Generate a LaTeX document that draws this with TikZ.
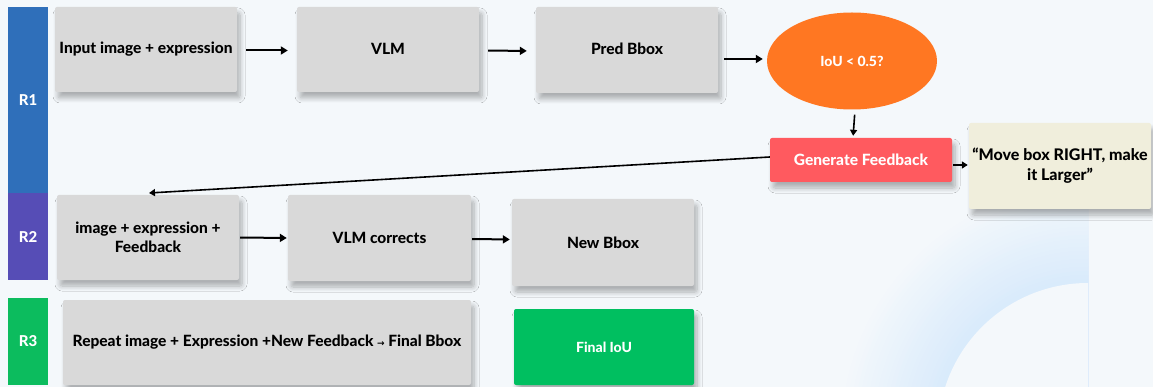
\documentclass[tikz,border=0pt]{standalone}
\usepackage{fontspec}
\setmainfont{Lato}[BoldFont={Lato Heavy}]
\newfontfamily\symfont{DejaVu Sans}
\usetikzlibrary{arrows.meta,shapes.geometric,shadows.blur}

\definecolor{bgc}{HTML}{F4F8FB}
\definecolor{ringc}{HTML}{D8EAFB}
\definecolor{roundone}{HTML}{2F6FBA}
\definecolor{roundtwo}{HTML}{564DB6}
\definecolor{roundthree}{HTML}{0CBC5E}
\definecolor{boxgray}{HTML}{D9D9D9}
\definecolor{iouorange}{HTML}{FF7722}
\definecolor{fbred}{HTML}{FF5A5F}
\definecolor{quotec}{HTML}{F0EEDC}
\definecolor{finalgreen}{HTML}{00BF60}

\tikzset{
  stage/.style={fill=boxgray, rounded corners=2pt, align=center,
    font=\fontsize{15.5}{19.5}\selectfont\bfseries, text=black, inner sep=0pt,
    blur shadow={shadow xshift=3pt, shadow yshift=-6pt, shadow blur steps=8, shadow opacity=30, shadow blur radius=5pt}},
  bar/.style={inner sep=0pt, font=\fontsize{15}{17}\selectfont\bfseries, text=white},
  arr/.style={draw=black, line width=2pt, -{Triangle[length=7pt,width=8pt]}},
  thin arr/.style={draw=black, line width=1.6pt, -{Triangle[length=6pt,width=7pt]}}
}

\begin{document}
\begin{tikzpicture}[x=1pt,y=-1pt]
\useasboundingbox (0,0) rectangle (1153,387);
\fill[bgc] (0,0) rectangle (1153,387);

% faint quarter ring in the lower right corner
\begin{scope}
  \clip (0,0) rectangle (1088,433);
  \foreach \i in {0,...,24} {
    \pgfmathsetmacro{\rr}{250-4*\i}
    \pgfmathsetmacro{\mix}{4*\i}
    \fill[ringc!\mix!bgc] (1088,433) circle[radius=\rr pt];
  }
  \fill[bgc] (1088,433) circle[radius=150pt];
\end{scope}

% round bars
\node[bar, fill=roundone, minimum width=40pt, minimum height=186pt] (r1) at (28,100) {R1};
\node[bar, fill=roundtwo, minimum width=40pt, minimum height=87pt] (r2) at (28,236.5) {R2};
\node[bar, fill=roundthree, minimum width=40pt, minimum height=87pt] (r3) at (28,341.5) {R3};

% round 1
\node[stage, minimum width=182pt, minimum height=85pt] (inp) at (146,49.5) {\raisebox{2pt}{Input image + expression}};
\node[stage, minimum width=182pt, minimum height=85pt] (vlm) at (388,49.5) {\raisebox{2pt}{VLM}};
\node[stage, minimum width=182pt, minimum height=86pt] (pred) at (627,50) {\raisebox{2pt}{Pred Bbox}};
\node[ellipse, fill=iouorange, minimum width=170pt, minimum height=97pt, inner sep=0pt,
      font=\fontsize{14}{16}\selectfont\bfseries, text=white] (iou) at (852,61) {IoU < 0.5?};
\node[stage, fill=fbred, text=white, minimum width=182pt, minimum height=44pt] (gen) at (861,160) {Generate Feedback};
\node[stage, fill=quotec, minimum width=182pt, minimum height=86pt, font=\fontsize{16}{20}\selectfont\bfseries] (quote) at (1060,166) {“Move box RIGHT, make\\it Larger”};

% round 2
\node[stage, minimum width=182pt, minimum height=85pt] (inp2) at (148,237.5) {image + expression +\\Feedback};
\node[stage, minimum width=183pt, minimum height=86pt] (vlmc) at (379.5,238) {VLM corrects};
\node[stage, minimum width=182pt, minimum height=87pt] (newb) at (603,242.5) {New Bbox};

% round 3
\node[stage, minimum width=408pt, minimum height=85pt] (rep) at (267,342.5) {Repeat image + Expression +New Feedback {\symfont\fontsize{9}{10}\selectfont →} Final Bbox};
\node[stage, fill=finalgreen, text=white, minimum width=180pt, minimum height=76pt, font=\fontsize{14}{16}\selectfont\bfseries] (fin) at (604,347) {Final IoU};

\coordinate (fbin) at (149,193);

% connectors
\draw[arr, shorten <=9pt, shorten >=9pt] ([yshift=-1pt]inp.east) -- ([yshift=-1pt]vlm.west);
\draw[arr, shorten <=9pt, shorten >=9pt] ([yshift=-1pt]vlm.east) -- ([yshift=-1pt]pred.west);
\draw[arr, shorten <=6pt, shorten >=4pt] ([yshift=-9pt]pred.east) -- ([yshift=2pt]iou.west);
\draw[thin arr, shorten <=5pt, shorten >=2pt] ([xshift=3pt]iou.south) -- ([xshift=-8pt]gen.north);
\draw[thin arr, shorten <=1pt, shorten >=1pt] ([yshift=-5pt]gen.east) -- ([yshift=1pt]quote.west);
\draw[thin arr] ([yshift=3pt]gen.west) -- (fbin);
\draw[arr, shorten <=1pt, shorten >=1pt] (inp2.east) -- (vlmc.west);
\draw[arr, shorten <=1pt, shorten >=2pt] ([yshift=-1pt]vlmc.east) -- ([yshift=3pt]newb.west);
\end{tikzpicture}
\end{document}
